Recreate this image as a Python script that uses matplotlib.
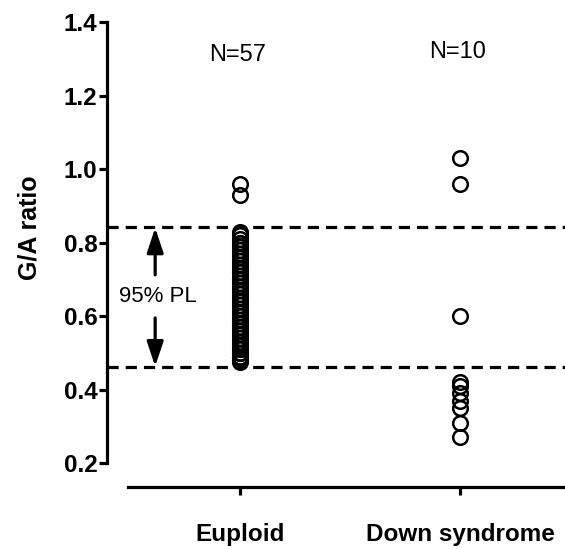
import numpy as np
import matplotlib.pyplot as plt

plt.rcParams['font.family'] = ['Liberation Sans', 'DejaVu Sans']

# grupper och värden
grupper = ['Euploid', 'Down syndrome']
antal = ['N=57', 'N=10']
euploid = [0.96, 0.93,
           0.83, 0.82, 0.81, 0.80, 0.80, 0.79, 0.78, 0.77, 0.76, 0.76,
           0.75, 0.74, 0.73, 0.72, 0.72, 0.71, 0.70, 0.70, 0.69, 0.68,
           0.67, 0.66, 0.65, 0.65, 0.64, 0.63, 0.62, 0.61, 0.60, 0.60,
           0.59, 0.58, 0.57, 0.57, 0.56, 0.55, 0.55, 0.54, 0.53, 0.53,
           0.52, 0.52, 0.51, 0.51, 0.50, 0.50, 0.50, 0.49, 0.49, 0.49,
           0.485, 0.485, 0.48, 0.48, 0.475]
down = [1.03, 0.96, 0.60, 0.42, 0.41, 0.39, 0.37, 0.35, 0.31, 0.27]
pl_upp = 0.842  # 95% PL övre
pl_ned = 0.461  # 95% PL nedre
yticks = [0.2, 0.4, 0.6, 0.8, 1.0, 1.2, 1.4]

fig = plt.figure(figsize=(5.65, 5.49), dpi=100)
ax = fig.add_axes([107/565, 1-487/549, 1-107/565, (487-22)/549])

# punkter
ax.plot(np.zeros(len(euploid)), euploid, 'o', mfc='none', mec='black', ms=10.5, mew=1.8, clip_on=False)
ax.plot(np.ones(len(down)), down, 'o', mfc='none', mec='black', ms=10.5, mew=1.8, clip_on=False)

# streckade linjer
ax.axhline(pl_upp, color='black', lw=2.3, linestyle=(0, (3.5, 2.2)))
ax.axhline(pl_ned, color='black', lw=2.3, linestyle=(0, (3.5, 2.2)))

# pilar och text
xa = -0.386
ax.annotate('', xy=(xa, pl_upp - 0.002), xytext=(xa, 0.712),
            arrowprops=dict(arrowstyle='-|>,head_length=1.5,head_width=0.5', color='black', lw=2.3,
                            shrinkA=0, shrinkB=0))
ax.annotate('', xy=(xa, pl_ned + 0.002), xytext=(xa, 0.595),
            arrowprops=dict(arrowstyle='-|>,head_length=1.5,head_width=0.5', color='black', lw=2.3,
                            shrinkA=0, shrinkB=0))
ax.text(-0.376, 0.652, '95% PL', ha='center', va='center', fontsize=16)

ax.text(-0.01, 1.31, antal[0], ha='center', va='center', fontsize=17)
ax.text(0.99, 1.318, antal[1], ha='center', va='center', fontsize=17)

ax.set_xlim(-0.605, 1.477)
ax.set_ylim(0.135, 1.4)
ax.set_yticks(yticks)
ax.set_yticklabels([f'{v:.1f}' for v in yticks], fontsize=17.5, fontweight='bold')
ax.set_xticks([0, 1])
ax.set_xticklabels(grupper, fontsize=17.5, fontweight='bold')
ax.set_ylabel('G/A ratio', fontsize=18, fontweight='bold')
ax.yaxis.set_label_coords(-0.142, 0.557)

ax.spines['top'].set_visible(False)
ax.spines['right'].set_visible(False)
ax.spines['left'].set_linewidth(2.3)
ax.spines['bottom'].set_linewidth(2.3)
ax.spines['left'].set_bounds(0.2, 1.4)
ax.spines['bottom'].set_bounds(-0.509, 1.477)
ax.tick_params(axis='y', length=6, width=2.3, pad=1)
ax.tick_params(axis='x', length=6, width=2.3, pad=20)

fig.savefig('out.png', dpi=100)
